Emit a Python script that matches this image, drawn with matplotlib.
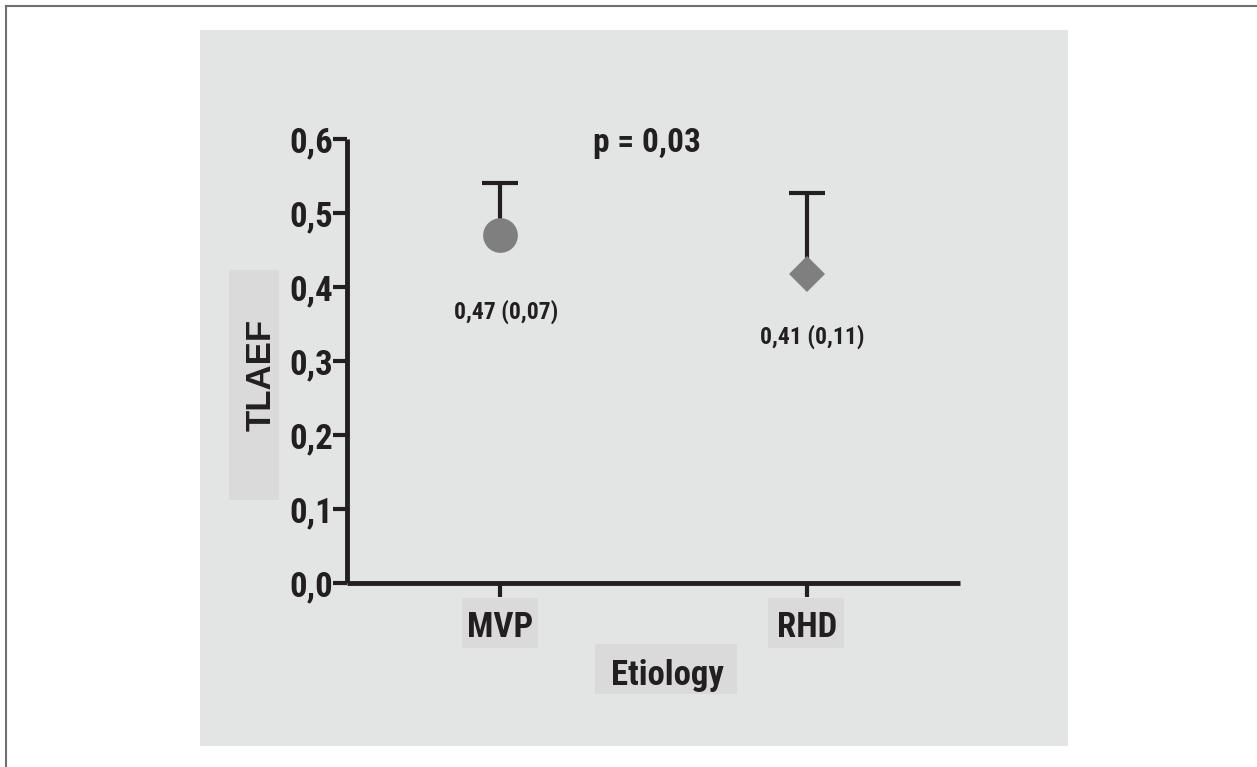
import matplotlib
matplotlib.use("Agg")
import matplotlib.pyplot as plt
from matplotlib import font_manager as fm
from matplotlib.patches import Rectangle
from matplotlib.lines import Line2D

# ---- data ----
categories = ["MVP", "RHD"]
means = [0.47, 0.417]
sds = [0.07, 0.11]
annotations = ["0,47 (0,07)", "0,41 (0,11)"]
y_ticks = [0.0, 0.1, 0.2, 0.3, 0.4, 0.5, 0.6]
y_ticklabels = ["0,0", "0,1", "0,2", "0,3", "0,4", "0,5", "0,6"]
y_label = "TLAEF"
x_label = "Etiology"
p_text = "p = 0,03"

# ---- fonts ----
bold_names = {f.name for f in fm.fontManager.ttflist if f.weight in (700, "bold")}
FAM = ["DejaVu Sans"]
for cand in ["Liberation Sans Narrow", "Roboto Condensed", "Asap Condensed",
             "Barlow Semi Condensed"]:
    if cand in bold_names:
        FAM = [cand, "DejaVu Sans"]
        break
plt.rcParams["font.family"] = FAM
plt.rcParams["font.weight"] = "bold"
WIDE = ["Liberation Sans", "DejaVu Sans"]

W, H = 1257, 767
DPI = 100
TXT = "#231F20"
PANEL = "#E3E5E4"
BOX = "#D9DAD9"

fig = plt.figure(figsize=(W / DPI, H / DPI), dpi=DPI, facecolor="white")


def px_rect(x0, y0, x1, y1, **kw):
    """rectangle from pixel coords (origin top-left) in figure fraction"""
    return Rectangle((x0 / W, 1 - y1 / H), (x1 - x0) / W, (y1 - y0) / H,
                     transform=fig.transFigure, **kw)


# outer frame lines (top and left)
fig.add_artist(Line2D([6 / W, 1], [1 - 6 / H, 1 - 6 / H], transform=fig.transFigure,
                      color="#707070", lw=1.5, zorder=-20))
fig.add_artist(Line2D([6 / W, 6 / W], [0, 1 - 6 / H], transform=fig.transFigure,
                      color="#707070", lw=1.5, zorder=-20))

# gray panel
fig.add_artist(px_rect(200, 30, 1068, 746, facecolor=PANEL, edgecolor="none", zorder=-10))
# label boxes
for (x0, y0, x1, y1) in [(229, 270, 279, 500), (462, 598, 538, 648),
                          (768, 598, 844, 648), (595, 644, 737, 694)]:
    fig.add_artist(px_rect(x0, y0, x1, y1, facecolor=BOX, edgecolor="none", zorder=-5))

# axes: x from 347 to 960 px, y from 583 (0.0) to 139 (0.6)
ax = fig.add_axes([347 / W, 1 - 583 / H, (960 - 347) / W, (583 - 139) / H])
ax.patch.set_alpha(0)
ax.set_xlim(-0.5, 1.5)
ax.set_ylim(0, 0.6)
for s in ["top", "right"]:
    ax.spines[s].set_visible(False)
for s in ["left", "bottom"]:
    ax.spines[s].set_linewidth(3.5)
    ax.spines[s].set_color(TXT)
    ax.spines[s].set_capstyle("butt")

xpos = list(range(len(categories)))
ax.set_xticks(xpos)
ax.set_xticklabels(categories)
ax.set_yticks(y_ticks)
ax.set_yticklabels(y_ticklabels)
ax.tick_params(axis="y", length=10, width=3, color=TXT, pad=0,
               labelsize=25, labelcolor=TXT)
ax.tick_params(axis="x", length=10, width=3, color=TXT, pad=10,
               labelsize=25, labelcolor=TXT)

# error bars (upper only)
_, caps, _ = ax.errorbar(xpos, means, yerr=[[0] * len(sds), sds], fmt="none",
                         ecolor=TXT, elinewidth=3, capsize=13, capthick=3, zorder=3)
if len(caps) == 2:
    caps[0].set_visible(False)
ax.plot([xpos[0]], [means[0]], marker="o", markersize=25, color="#7F7F7F",
        markeredgewidth=0, linestyle="none", zorder=4, clip_on=False)
ax.plot([xpos[1]], [means[1]], marker="D", markersize=18.3, color="#7F7F7F",
        markeredgewidth=0, linestyle="none", zorder=4, clip_on=False)

label_offsets = [(4, -55), (4, -45)]
for x, m, t, off in zip(xpos, means, annotations, label_offsets):
    ax.annotate(t, (x, m), xytext=off, textcoords="offset points",
                ha="center", va="center", fontsize=17, color=TXT, fontweight="bold")

ax.text((647 - 347) / 613, (583 - 143) / 444, p_text, transform=ax.transAxes,
        ha="center", va="center", fontsize=24, color=TXT, fontweight="bold")

ax.set_ylabel(y_label, fontsize=25, color=TXT, fontweight="bold", va="baseline",
              family=WIDE)
ax.yaxis.set_label_coords((271 - 347) / 613, (583 - 375) / 444)
ax.set_xlabel(x_label, fontsize=25, color=TXT, fontweight="bold", va="baseline")
ax.xaxis.set_label_coords((667 - 347) / 613, (583 - 685) / 444)

fig.savefig("out.png", dpi=DPI, facecolor="white")
